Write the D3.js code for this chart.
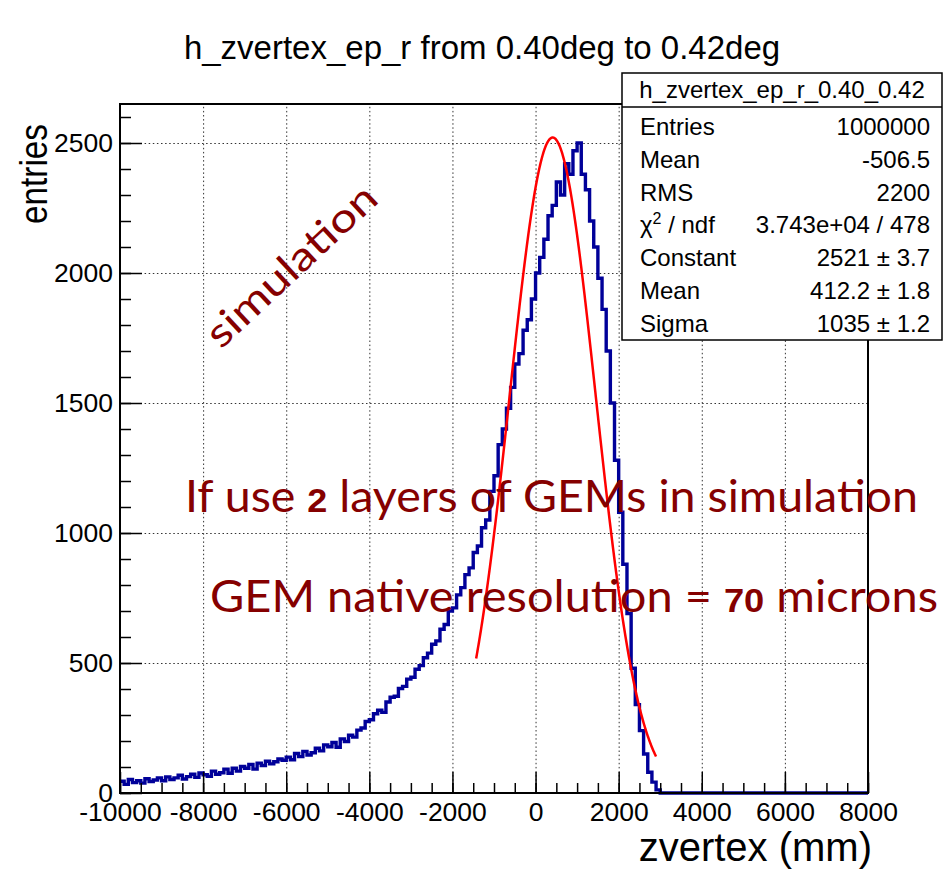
<!DOCTYPE html>
<html><head><meta charset="utf-8">
<script src="https://cdn.jsdelivr.net/npm/d3@7"></script>
<style>body{margin:0;background:#fff;} svg{display:block;}</style>
</head><body>
<svg id="c" width="946" height="870"></svg>
<script>
// ---------- data ----------
const binLow = -10000, binWidth = 100;
const counts = [
  45, 33, 52, 40, 47, 38, 55, 44, 50, 58,
  47, 62, 52, 58, 68, 54, 63, 72, 60, 77,
  70, 64, 84, 72, 78, 92, 76, 95, 84, 102,
  95, 110, 92, 115, 106, 122, 112, 120, 131, 126,
  138, 128, 152, 140, 160, 146, 155, 172, 162, 185,
  178, 194, 176, 208, 198, 222, 215, 242, 250, 275,
  282, 305, 318, 310, 350, 368, 372, 402, 410, 438,
  445, 476, 490, 520, 538, 572, 585, 630, 648, 700,
  712, 762, 790, 840, 866, 925, 950, 1020, 1050, 1160,
  1220, 1340, 1400, 1480, 1560, 1650, 1690, 1780, 1820, 1900,
  2000, 2060, 2130, 2220, 2260, 2350, 2300, 2420, 2380, 2470,
  2500, 2380, 2320, 2200, 2100, 1980, 1860, 1700, 1500, 1280,
  1080, 880, 690, 480, 340, 240, 150, 80, 42, 12,
  0, 0, 0, 0, 0, 0, 0, 0, 0, 0,
  0, 0, 0, 0, 0, 0, 0, 0, 0, 0,
  0, 0, 0, 0, 0, 0, 0, 0, 0, 0,
  0, 0, 0, 0, 0, 0, 0, 0, 0, 0,
  0, 0, 0, 0, 0, 0, 0, 0, 0, 0
];
const xTicks = [-10000, -8000, -6000, -4000, -2000, 0, 2000, 4000, 6000, 8000];
const xMinorTicks = d3.range(-10000, 8001, 500);
const yTicks = [0, 500, 1000, 1500, 2000, 2500];
const yMinorTicks = d3.range(0, 2651, 100);
const fitConstant = 2521, fitMean = 412.2, fitSigma = 1035;
const fitRange = [-1430, 2900];
const statsTitle = "h_zvertex_ep_r_0.40_0.42";
const statsLabels = ["Entries", "Mean", "RMS", "CHI", "Constant", "Mean", "Sigma"];
const statsValues = ["1000000", "-506.5", "2200", "3.743e+04 / 478", "2521 \u00b1 3.7", "412.2 \u00b1 1.8", "1035 \u00b1 1.2"];
const title = "h_zvertex_ep_r from 0.40deg to 0.42deg";
const xTitle = "zvertex (mm)", yTitle = "entries";

// ---------- layout ----------
const X0 = 120, X1 = 868, Y0 = 793, Y1 = 104;
const x = d3.scaleLinear().domain([-10000, 8000]).range([X0, X1]);
const y = d3.scaleLinear().domain([0, 2650]).range([Y0, Y1]);
const svg = d3.select("#c");
const FONT = "'Liberation Sans', Arial, Helvetica, sans-serif";
const ANN = "#850000";

svg.append("rect").attr("width", 946).attr("height", 870).attr("fill", "#fff");

// grid
const gGrid = svg.append("g");
gGrid.append("g").attr("transform", `translate(0,${Y0})`)
  .call(d3.axisBottom(x).tickValues(xTicks.filter(v => v > -10000 && v < 8000)).tickSize(-(Y0 - Y1)).tickFormat(""))
  .call(g => g.select(".domain").remove());
gGrid.append("g").attr("transform", `translate(${X0},0)`)
  .call(d3.axisLeft(y).tickValues(yTicks.filter(v => v > 0)).tickSize(-(X1 - X0)).tickFormat(""))
  .call(g => g.select(".domain").remove());
gGrid.selectAll("line").attr("stroke", "#333").attr("stroke-width", 1).attr("stroke-dasharray", "1.5,2.6");
gGrid.selectAll("text").remove();

// histogram
const pts = counts.map((c, i) => [binLow + i * binWidth, c]);
pts.push([binLow + counts.length * binWidth, counts[counts.length - 1]]);
const stepLine = d3.line().x(d => x(d[0])).y(d => y(d[1])).curve(d3.curveStepAfter);
svg.append("path").attr("d", stepLine(pts)).attr("fill", "none")
  .attr("stroke", "#000099").attr("stroke-width", 3.4).attr("stroke-linejoin", "miter");

// fit curve
const fitX = d3.range(fitRange[0], fitRange[1] + 1, 10);
const gaus = v => fitConstant * Math.exp(-0.5 * Math.pow((v - fitMean) / fitSigma, 2));
svg.append("path").attr("d", d3.line().x(d => x(d)).y(d => y(gaus(d))).curve(d3.curveLinear)(fitX))
  .attr("fill", "none").attr("stroke", "#ff0000").attr("stroke-width", 2.5);

// axes ticks
const gx = svg.append("g").attr("transform", `translate(0,${Y0})`);
const gxMinor = gx.append("g").call(d3.axisBottom(x).tickValues(xMinorTicks).tickSize(-10).tickFormat(""))
  .call(g => g.select(".domain").remove());
gxMinor.selectAll("text").remove();
const gxMajor = gx.append("g").call(d3.axisBottom(x).tickValues(xTicks).tickSize(-21).tickPadding(9).tickFormat(d3.format("d")))
  .call(g => g.select(".domain").remove());
gx.selectAll("line").attr("stroke", "#000").attr("stroke-width", 1.5);
gxMajor.selectAll("text").attr("font-family", FONT).attr("font-size", 26.5).attr("fill", "#000")
  .text(d => String(d));

const gy = svg.append("g").attr("transform", `translate(${X0},0)`);
const gyMinor = gy.append("g").call(d3.axisLeft(y).tickValues(yMinorTicks).tickSize(-11).tickFormat(""))
  .call(g => g.select(".domain").remove());
gyMinor.selectAll("text").remove();
const gyMajor = gy.append("g").call(d3.axisLeft(y).tickValues(yTicks).tickSize(-22).tickPadding(7).tickFormat(d3.format("d")))
  .call(g => g.select(".domain").remove());
gy.selectAll("line").attr("stroke", "#000").attr("stroke-width", 1.5);
gyMajor.selectAll("text").attr("font-family", FONT).attr("font-size", 26.5).attr("fill", "#000");

// frame
svg.append("rect").attr("x", X0).attr("y", Y1).attr("width", X1 - X0).attr("height", Y0 - Y1)
  .attr("fill", "none").attr("stroke", "#000").attr("stroke-width", 2);

// title
svg.append("text").attr("x", 482).attr("y", 59).attr("text-anchor", "middle")
  .attr("font-family", FONT).attr("font-size", 33).text(title);

// axis titles
svg.append("text").attr("x", 872).attr("y", 861).attr("text-anchor", "end")
  .attr("font-family", FONT).attr("font-size", 40).text(xTitle);
svg.append("text").attr("transform", "translate(47,124) rotate(-90)").attr("text-anchor", "end")
  .attr("font-family", FONT).attr("font-size", 39).attr("textLength", 100).attr("lengthAdjust", "spacingAndGlyphs")
  .text(yTitle);

// stats box
const bx0 = 622, bx1 = 942, by0 = 73, by1 = 340, bsep = 107;
const gs = svg.append("g");
gs.append("rect").attr("x", bx0).attr("y", by0).attr("width", bx1 - bx0).attr("height", by1 - by0)
  .attr("fill", "#fff").attr("stroke", "#000").attr("stroke-width", 1.5);
gs.append("line").attr("x1", bx0).attr("x2", bx1).attr("y1", bsep).attr("y2", bsep)
  .attr("stroke", "#000").attr("stroke-width", 1.5);
gs.append("text").attr("x", (bx0 + bx1) / 2).attr("y", 98).attr("text-anchor", "middle")
  .attr("font-family", FONT).attr("font-size", 24).text(statsTitle);
statsLabels.forEach((lab, i) => {
  const yy = 135 + i * 32.8;
  const t = gs.append("text").attr("x", 640).attr("y", yy).attr("font-family", FONT).attr("font-size", 24);
  if (lab === "CHI") {
    t.append("tspan").text("\u03c7");
    t.append("tspan").attr("font-size", 16).attr("dy", -9).text("2");
    t.append("tspan").attr("dy", 9).text(" / ndf");
  } else t.text(lab);
  gs.append("text").attr("x", 930).attr("y", yy).attr("text-anchor", "end")
    .attr("font-family", FONT).attr("font-size", 24).text(statsValues[i]);
});

// annotations
const AFONT = "Lato, 'Open Sans', sans-serif";
svg.append("text").attr("transform", "translate(221,350) rotate(-43)")
  .attr("font-family", AFONT).attr("font-weight", 400).attr("font-size", 40).attr("fill", ANN)
  .attr("textLength", 218).attr("lengthAdjust", "spacingAndGlyphs").text("simulation");

const l1 = svg.append("text").attr("x", 185).attr("y", 512).attr("font-family", AFONT).attr("font-weight", 400)
  .attr("font-size", 44).attr("fill", ANN).attr("textLength", 733).attr("lengthAdjust", "spacingAndGlyphs");
l1.append("tspan").text("If use ");
l1.append("tspan").attr("font-family", FONT).attr("font-weight", "bold").attr("font-size", 34).text("2");
l1.append("tspan").text(" layers of GEMs in simulation");

const l2 = svg.append("text").attr("x", 210).attr("y", 612).attr("font-family", AFONT).attr("font-weight", 400)
  .attr("font-size", 44).attr("fill", ANN).attr("textLength", 728).attr("lengthAdjust", "spacingAndGlyphs");
l2.append("tspan").text("GEM native resolution = ");
l2.append("tspan").attr("font-family", FONT).attr("font-weight", "bold").attr("font-size", 34).text("70");
l2.append("tspan").text(" microns");
</script>
</body></html>
